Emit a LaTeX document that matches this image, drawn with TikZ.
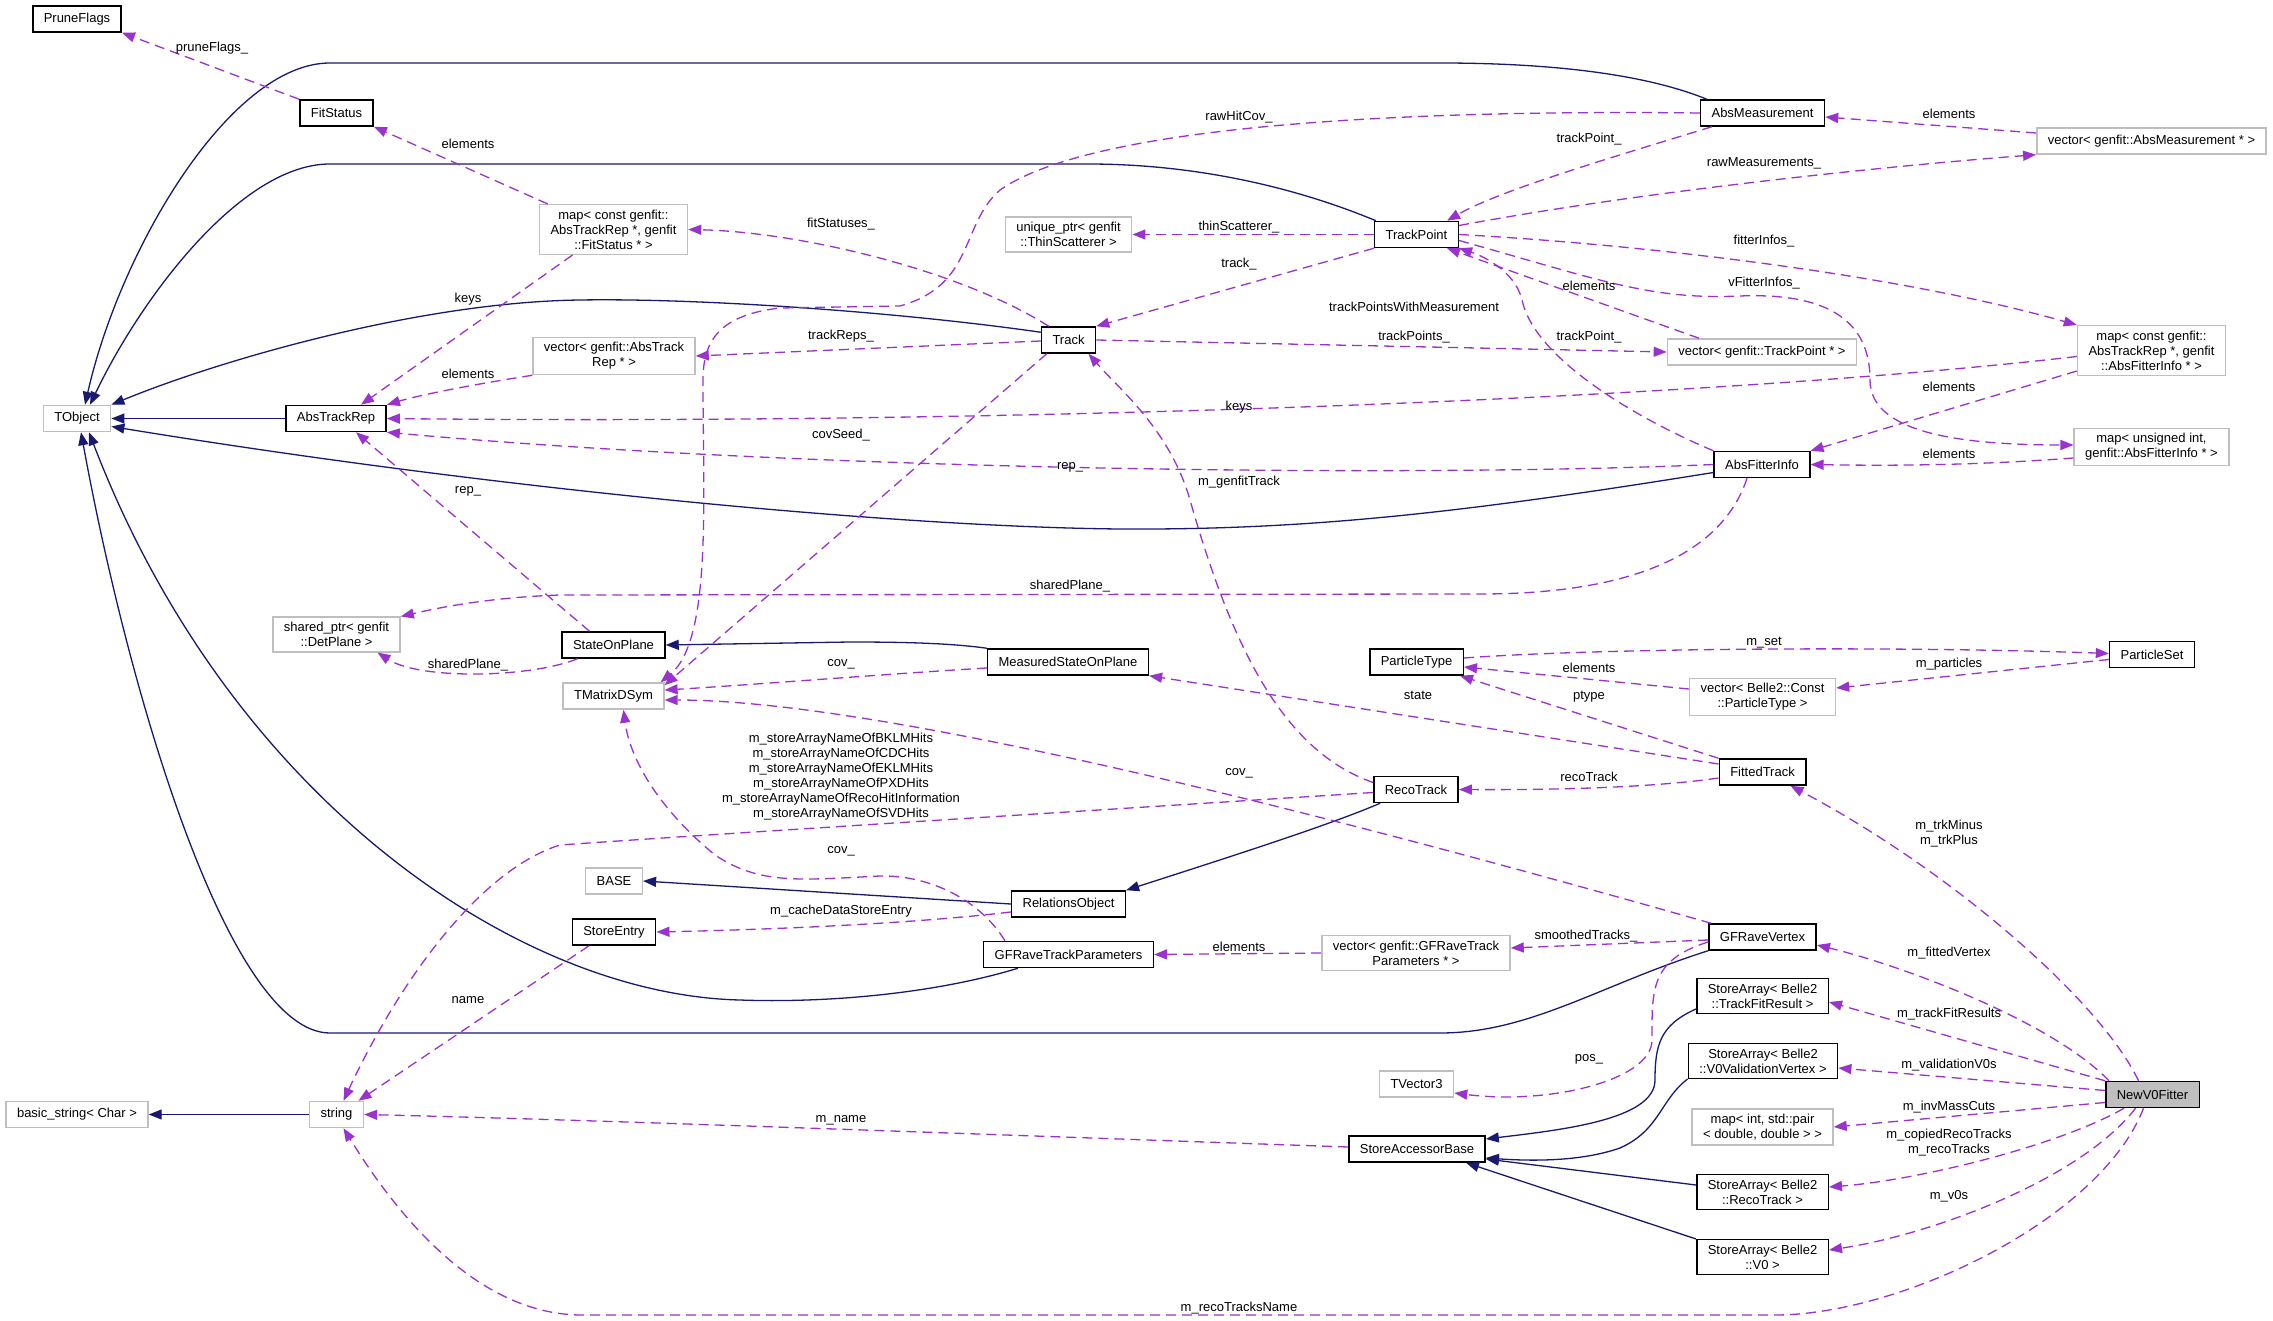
\documentclass[tikz,border=0pt]{standalone}
\usepackage{fontspec}
\setmainfont{Liberation Sans}
\usepackage{xcolor}
\usepackage{tikz}
\usetikzlibrary{arrows.meta}

\definecolor{inhblue}{HTML}{191970}
\definecolor{memviolet}{HTML}{9A32CD}
\definecolor{extgray}{HTML}{BFBFBF}

\begin{document}
\begin{tikzpicture}[
    x=1pt, y=-1pt,
    every node/.style={font=\fontsize{13}{15}\selectfont},
    cls/.style={rectangle, draw=black, line width=1.5pt, fill=white, align=center, inner xsep=11pt, inner ysep=5pt, minimum height=26pt},
    ext/.style={cls, draw=extgray},
    focus/.style={cls, fill=extgray},
    inh/.style={draw=inhblue, line width=1.3pt, -{Triangle[length=13pt, width=10pt]}},
    mem/.style={draw=memviolet, line width=1.3pt, dash pattern=on 10pt off 6pt, -{Triangle[length=13pt, width=10pt]}},
    lbl/.style={inner sep=0pt, align=center},
]
\fill[white] (0,0) rectangle (2273,1321);
\useasboundingbox (0,0) rectangle (2273,1321);

% column 1
\node[cls] (pruneflags) at (77,19) {PruneFlags};
\node[ext] (tobject) at (77,418.5) {TObject};
\node[ext] (basicstring) at (77,1114.5) {basic\_string< Char >};
% column 2
\node[cls] (fitstatus) at (336.5,113) {FitStatus};
\node[cls] (abstrackrep) at (336,418.5) {AbsTrackRep};
\node[ext] (sharedptr) at (336.5,634.5) {shared\_ptr< genfit\\::DetPlane >};
\node[ext] (string) at (336.5,1114.5) {string};
% column 3
\node[ext] (mapfs) at (613.5,229.5) {map< const genfit::\\AbsTrackRep *, genfit\\::FitStatus * >};
\node[ext] (vecatr) at (614,356) {vector< genfit::AbsTrack\\Rep * >};
\node[cls] (stateonplane) at (613.5,645) {StateOnPlane};
\node[ext] (tmatrix) at (613.5,696) {TMatrixDSym};
\node[ext] (base) at (614,881) {BASE};
\node[cls] (storeentry) at (614,932) {StoreEntry};
% column 4
\node[ext] (uniqthin) at (1068.5,234.5) {unique\_ptr< genfit\\::ThinScatterer >};
\node[cls] (track) at (1068.5,340) {Track};
\node[cls] (msop) at (1068,662) {MeasuredStateOnPlane};
\node[cls] (relobj) at (1068.5,904) {RelationsObject};
\node[cls] (gfrtp) at (1068.5,954.5) {GFRaveTrackParameters};
% column 5
\node[cls] (trackpoint) at (1416.5,234.5) {TrackPoint};
\node[cls] (particletype) at (1416.5,662) {ParticleType};
\node[cls] (recotrack) at (1416,789.5) {RecoTrack};
\node[ext] (vecgfrtp) at (1416,953) {vector< genfit::GFRaveTrack\\Parameters * >};
\node[ext] (tvector) at (1416.5,1084) {TVector3};
\node[cls] (sab) at (1417,1149) {StoreAccessorBase};
% column 6
\node[cls] (absmeas) at (1762.5,113) {AbsMeasurement};
\node[ext] (vectp) at (1762,352) {vector< genfit::TrackPoint * >};
\node[cls] (absfitinfo) at (1762,464.5) {AbsFitterInfo};
\node[ext] (vecconst) at (1762.5,697) {vector< Belle2::Const\\::ParticleType >};
\node[cls] (fittedtrack) at (1762.5,772) {FittedTrack};
\node[cls] (gfravevertex) at (1762.5,937) {GFRaveVertex};
\node[cls] (satfr) at (1762.5,996) {StoreArray< Belle2\\::TrackFitResult >};
\node[cls] (savvv) at (1763,1061) {StoreArray< Belle2\\::V0ValidationVertex >};
\node[ext] (mapint) at (1762.5,1127) {map< int, std::pair\\< double, double > >};
\node[cls] (sart) at (1762.5,1192) {StoreArray< Belle2\\::RecoTrack >};
\node[cls] (sav0) at (1762.5,1257) {StoreArray< Belle2\\::V0 >};
% column 7
\node[ext] (vecam) at (2151.5,141) {vector< genfit::AbsMeasurement * >};
\node[ext] (mapafi) at (2151.5,350.5) {map< const genfit::\\AbsTrackRep *, genfit\\::AbsFitterInfo * >};
\node[ext] (mapuint) at (2151.5,447) {map< unsigned int,\\genfit::AbsFitterInfo * >};
\node[cls] (particleset) at (2152,654.5) {ParticleSet};
\node[focus] (newv0) at (2152.5,1094.5) {NewV0Fitter};

% inheritance
\draw[inh] ([xshift=7]absmeas.north west) .. controls (1640,72) and (1540,63) .. (1440,63) -- (330,63) .. controls (230,63) and (120,250) .. ([xshift=8]tobject.north);
\draw[inh] ([xshift=2]trackpoint.north west) .. controls (1290,185) and (1190,164) .. (1088,164) -- (330,164) .. controls (240,164) and (140,300) .. ([xshift=13]tobject.north);
\draw[inh] ([yshift=-6]track.north west) .. controls (900,312) and (700,298) .. (580,300) .. controls (420,302) and (220,360) .. (tobject.north east);
\draw[inh] (abstrackrep.west) -- (tobject.east);
\draw[inh] ([yshift=-8]absfitinfo.west) .. controls (1450,515) and (1300,530) .. (1120,529) .. controls (900,527) and (500,490) .. ([yshift=-8]tobject.east);
\draw[inh] (msop.north west) .. controls (950,643) and (900,642) .. (850,642) -- (stateonplane.east);
\draw[inh] ([xshift=35]gfrtp.south west) .. controls (930,995) and (820,1003) .. (740,1000) .. controls (520,995) and (230,800) .. ([xshift=12]tobject.south);
\draw[inh] (gfravevertex.south west) .. controls (1600,985) and (1530,1033) .. (1440,1033) -- (330,1033) .. controls (230,1033) and (130,700) .. ([xshift=4]tobject.south);
\draw[inh] (relobj.west) -- (base.east);
\draw[inh] ([xshift=7]recotrack.south west) .. controls (1330,825) and (1220,860) .. (relobj.north east);
\draw[inh] ([yshift=-13]satfr.west) .. controls (1660,1025) and (1655,1045) .. (1655,1080) .. controls (1655,1120) and (1560,1130) .. ([yshift=10]sab.east);
\draw[inh] (savvv.south west) .. controls (1660,1100) and (1660,1130) .. (1620,1148) .. controls (1580,1162) and (1530,1161) .. ([yshift=-9]sab.east);
\draw[inh] ([yshift=7]sart.west) -- ([yshift=-10]sab.east);
\draw[inh] (sav0.north west) -- ([xshift=49]sab.south);
\draw[inh] (string.west) -- (basicstring.east);

% members
\draw[mem] (fitstatus.north west) -- (pruneflags.south east);
\draw[mem] ([xshift=9]mapfs.north west) -- (fitstatus.south east);
\draw[mem] ([xshift=8]track.north west) .. controls (960,270) and (800,232) .. (mapfs.east);
\draw[mem] ([xshift=-41]mapfs.south) -- ([xshift=25]abstrackrep.north);
\draw[mem] (vecatr.south west) .. controls (470,385) and (420,395) .. (abstrackrep.north east);
\draw[mem] ([yshift=-1]track.west) -- (vecatr.east);
\draw[mem] ([yshift=-6]mapafi.west) .. controls (1700,400) and (1000,425) .. (abstrackrep.east);
\draw[mem] (absfitinfo.west) .. controls (1400,478) and (800,470) .. (abstrackrep.south east);
\draw[mem] ([xshift=-24]stateonplane.north) -- ([xshift=20]abstrackrep.south);
\draw[mem] ([xshift=-15]absfitinfo.south) .. controls (1720,560) and (1620,594) .. (1480,594) -- (560,595) .. controls (500,597) and (450,605) .. (sharedptr.north east);
\draw[mem] ([xshift=-36]stateonplane.south) .. controls (530,678) and (420,680) .. ([xshift=41]sharedptr.south);
\draw[mem] (absmeas.west) .. controls (1450,110) and (1100,120) .. (1000,190) .. controls (960,225) and (975,285) .. (900,306) -- (780,308) .. controls (720,315) and (703,340) .. (703,380) .. controls (703,500) and (712,640) .. ([xshift=-4]tmatrix.north east);
\draw[mem] ([xshift=6]track.south west) -- ([yshift=-3]tmatrix.north east);
\draw[mem] ([yshift=-6]msop.west) .. controls (900,673) and (750,685) .. ([yshift=6]tmatrix.east);
\draw[mem] ([xshift=3]gfravevertex.north west) .. controls (1400,835) and (900,700) .. ([yshift=-4]tmatrix.east);
\draw[mem] ([xshift=22]gfrtp.north west) .. controls (980,900) and (930,875) .. (880,876) .. controls (800,880) and (760,885) .. (715,855) .. controls (660,810) and (630,760) .. ([xshift=10]tmatrix.south);
\draw[mem] ([yshift=-3]recotrack.west) .. controls (1100,810) and (700,835) .. (560,845) .. controls (480,870) and (400,980) .. ([xshift=7]string.north);
\draw[mem] ([xshift=-25]storeentry.south) -- ([xshift=22]string.north);
\draw[mem] ([yshift=-8]relobj.west) .. controls (900,925) and (750,930) .. (storeentry.east);
\draw[mem] ([yshift=-6]fittedtrack.west) .. controls (1650,788) and (1550,790) .. (recotrack.east);
\draw[mem] ([yshift=8]fittedtrack.west) -- (msop.south east);
\draw[mem] (fittedtrack.north west) -- ([xshift=-4]particletype.south east);
\draw[mem] ([yshift=4]particletype.east) .. controls (1600,648) and (1900,646) .. ([yshift=1]particleset.west);
\draw[mem] ([yshift=8]vecconst.west) -- ([yshift=-5]particletype.east);
\draw[mem] ([yshift=-5]particleset.west) -- ([yshift=9]vecconst.east);
\draw[mem] ([xshift=-14]newv0.north) .. controls (2100,1000) and (1950,870) .. ([xshift=28]fittedtrack.south);
\draw[mem] ([xshift=4]newv0.north west) .. controls (2050,1020) and (1900,965) .. ([yshift=-8]gfravevertex.east);
\draw[mem] (newv0.north west) -- ([yshift=-6]satfr.east);
\draw[mem] ([yshift=4]newv0.west) -- ([yshift=-7]savvv.east);
\draw[mem] ([yshift=-8]newv0.west) -- (mapint.east);
\draw[mem] ([xshift=19]newv0.south west) .. controls (2060,1145) and (1920,1180) .. ([yshift=5]sart.east);
\draw[mem] ([xshift=-17]newv0.south) .. controls (2080,1180) and (1930,1235) .. ([yshift=7]sav0.east);
\draw[mem] ([xshift=-9]newv0.south) .. controls (2100,1220) and (1900,1315) .. (1775,1315) -- (582,1315) .. controls (480,1315) and (400,1220) .. ([xshift=7]string.south);
\draw[mem] ([yshift=2]sab.west) .. controls (1000,1135) and (600,1120) .. (string.east);
\draw[mem] ([yshift=-3]gfravevertex.west) -- ([yshift=5]vecgfrtp.east);
\draw[mem] (vecgfrtp.west) -- (gfrtp.east);
\draw[mem] ([yshift=-5]gfravevertex.west) .. controls (1650,960) and (1652,990) .. (1652,1040) .. controls (1652,1080) and (1550,1105) .. ([yshift=-9]tvector.east);
\draw[mem] (track.east) -- (vectp.west);
\draw[mem] ([xshift=-63]vectp.north) -- ([xshift=-12]trackpoint.south east);
\draw[mem] (trackpoint.south west) -- (track.north east);
\draw[mem] (trackpoint.west) -- (uniqthin.east);
\draw[mem] ([xshift=12]absmeas.south west) .. controls (1620,155) and (1500,190) .. ([xshift=-12]trackpoint.north east);
\draw[mem] ([yshift=9]trackpoint.east) .. controls (1650,190) and (1900,165) .. (vecam.south west);
\draw[mem] ([yshift=8]vecam.west) -- ([yshift=-4]absmeas.east);
\draw[mem] (trackpoint.east) .. controls (1650,245) and (1900,275) .. (mapafi.north west);
\draw[mem] ([yshift=-6]trackpoint.east) .. controls (1600,280) and (1650,300) .. (1740,296) .. controls (1840,292) and (1870,330) .. (1870,380) .. controls (1870,430) and (1950,445) .. ([yshift=2]mapuint.west);
\draw[mem] (absfitinfo.north west) .. controls (1640,420) and (1535,360) .. (1522,300) .. controls (1515,270) and (1480,255) .. (trackpoint.south east);
\draw[mem] ([yshift=5]mapafi.south west) -- (absfitinfo.north east);
\draw[mem] ([yshift=-11]mapuint.west) .. controls (1980,465) and (1900,466) .. (absfitinfo.east);
\draw[mem] ([yshift=7]recotrack.west) .. controls (1280,750) and (1230,640) .. (1190,500) .. controls (1170,430) and (1120,390) .. ([xshift=20]track.south);

% edge labels
\node[lbl] (lpruneflags) at (212,48) {pruneFlags\_};
\node[lbl] (lfselem) at (468,144) {elements};
\node[lbl] (lfskeys) at (468,299) {keys};
\node[lbl] (latrelem) at (468,374) {elements};
\node[lbl] (lsoprep) at (468,491) {rep\_};
\node[lbl] (lsopplane) at (468,665) {sharedPlane\_};
\node[lbl] (lname) at (468,1000) {name};
\node[lbl] (lfitstat) at (841,224) {fitStatuses\_};
\node[lbl] (ltrackreps) at (841,336) {trackReps\_};
\node[lbl] (lcovseed) at (841,435) {covSeed\_};
\node[lbl] (lmsopcov) at (841,664) {cov\_};
\node[lbl] (lstorenames) at (841,776.5) {m\_storeArrayNameOfBKLMHits\\m\_storeArrayNameOfCDCHits\\m\_storeArrayNameOfEKLMHits\\m\_storeArrayNameOfPXDHits\\m\_storeArrayNameOfRecoHitInformation\\m\_storeArrayNameOfSVDHits};
\node[lbl] (lgfrtpcov) at (841,851) {cov\_};
\node[lbl] (lcache) at (841,911) {m\_cacheDataStoreEntry};
\node[lbl] (lmname) at (841,1120) {m\_name};
\node[lbl] (lrawcov) at (1239,117) {rawHitCov\_};
\node[lbl] (lthin) at (1239,227) {thinScatterer\_};
\node[lbl] (ltrack) at (1239,264) {track\_};
\node[lbl] (lafikeys) at (1239,407) {keys};
\node[lbl] (lafirep) at (1070,467) {rep\_};
\node[lbl] (lgenfit) at (1239,482) {m\_genfitTrack};
\node[lbl] (lafiplane) at (1070,586) {sharedPlane\_};
\node[lbl] (lvtxcov) at (1239,773) {cov\_};
\node[lbl] (lgfrtpelem) at (1239,947) {elements};
\node[lbl] (lreconame) at (1239,1308) {m\_recoTracksName};
\node[lbl] (ltpwm) at (1414,307) {trackPointsWithMeasurement};
\node[lbl] (ltrackpoints) at (1414,337) {trackPoints\_};
\node[lbl] (lstate) at (1418,695) {state};
\node[lbl] (lmeastp) at (1589,139) {trackPoint\_};
\node[lbl] (ltpelem) at (1589,286) {elements};
\node[lbl] (lafitp) at (1589,337) {trackPoint\_};
\node[lbl] (lptelem) at (1589,668) {elements};
\node[lbl] (lptype) at (1589,697) {ptype};
\node[lbl] (lrecotrack) at (1589,777) {recoTrack};
\node[lbl] (lsmoothed) at (1586,936) {smoothedTracks\_};
\node[lbl] (lpos) at (1589,1059) {pos\_};
\node[lbl] (lrawmeas) at (1764,163) {rawMeasurements\_};
\node[lbl] (lfitinfos) at (1764,241) {fitterInfos\_};
\node[lbl] (lvfitinfos) at (1764,283) {vFitterInfos\_};
\node[lbl] (lmset) at (1764,643) {m\_set};
\node[lbl] (lamelem) at (1949,114) {elements};
\node[lbl] (lafielem) at (1949,387) {elements};
\node[lbl] (luintelem) at (1949,454) {elements};
\node[lbl] (lparticles) at (1949,664) {m\_particles};
\node[lbl] (ltrk) at (1949,834) {m\_trkMinus\\m\_trkPlus};
\node[lbl] (lfitvtx) at (1949,953) {m\_fittedVertex};
\node[lbl] (ltfr) at (1949,1014) {m\_trackFitResults};
\node[lbl] (lvalv0) at (1949,1065) {m\_validationV0s};
\node[lbl] (linvmass) at (1949,1107) {m\_invMassCuts};
\node[lbl] (lcopied) at (1949,1143) {m\_copiedRecoTracks\\m\_recoTracks};
\node[lbl] (lv0s) at (1949,1196) {m\_v0s};
\end{tikzpicture}
\end{document}
